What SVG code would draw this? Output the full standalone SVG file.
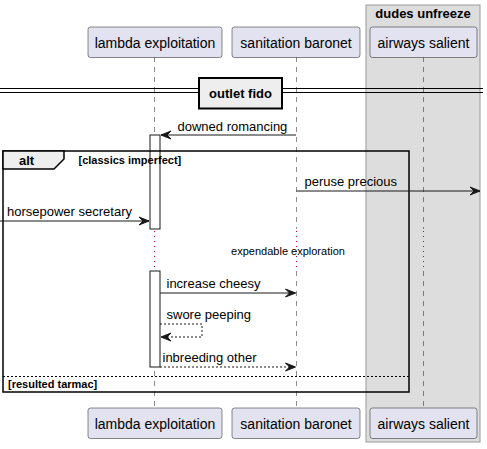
<svg xmlns="http://www.w3.org/2000/svg" width="487" height="449" viewBox="0 0 487 449">
<style>
text{font-family:"Liberation Sans",Arial,sans-serif;fill:#000}
.pt{font-size:14px}
.msg{font-size:13px}
.b13{font-size:13px;font-weight:bold}
.b11{font-size:11px;font-weight:bold}
.part{fill:#E2E2F0;stroke:#181818;stroke-width:0.5}
.life{stroke:#181818;stroke-width:0.5;stroke-dasharray:5,5;fill:none}
.delay{stroke:#CC0044;stroke-width:1;stroke-dasharray:1,4;fill:none}
.act{fill:#FFFFFF;stroke:#181818;stroke-width:1}
.ln{stroke:#181818;stroke-width:1;fill:none}
.dash{stroke-dasharray:2,2}
</style>
<defs>
<marker id="ah" viewBox="-11 -5 12 10" refX="0" refY="0" markerWidth="12" markerHeight="10" markerUnits="userSpaceOnUse" orient="auto">
<path d="M0,0 L-10,-4 L-6,0 L-10,4 Z" fill="#181818" stroke="#181818" stroke-width="1"/>
</marker>
</defs>
<g id="box-dudes-unfreeze">
<rect x="366" y="5" width="114" height="437" fill="#DDDDDD" stroke="#999999" stroke-width="1"/>
<text class="b13" x="423" y="18" text-anchor="middle">dudes unfreeze</text>
</g>
<g id="lifelines">
<line class="life" x1="154.5" y1="57" x2="154.5" y2="229"/>
<line class="delay" x1="154.5" y1="231" x2="154.5" y2="271"/>
<line class="life" x1="154.5" y1="271" x2="154.5" y2="408"/>
<line class="life" x1="296.5" y1="57" x2="296.5" y2="229"/>
<line class="delay" x1="296.5" y1="231" x2="296.5" y2="271"/>
<line class="life" x1="296.5" y1="271" x2="296.5" y2="408"/>
<line class="life" x1="423.5" y1="57" x2="423.5" y2="229"/>
<line class="delay" x1="423.5" y1="231" x2="423.5" y2="271"/>
<line class="life" x1="423.5" y1="271" x2="423.5" y2="408"/>
</g>
<g id="lambda-exploitation">
<rect class="part" x="88" y="27" width="134" height="30.5" rx="2.5"/>
<text class="pt" x="155" y="47.5" text-anchor="middle">lambda exploitation</text>
<rect class="part" x="88" y="408" width="134" height="30.5" rx="2.5"/>
<text class="pt" x="155" y="428.5" text-anchor="middle">lambda exploitation</text>
</g>
<g id="sanitation-baronet">
<rect class="part" x="232" y="27" width="128" height="30.5" rx="2.5"/>
<text class="pt" x="296" y="47.5" text-anchor="middle">sanitation baronet</text>
<rect class="part" x="232" y="408" width="128" height="30.5" rx="2.5"/>
<text class="pt" x="296" y="428.5" text-anchor="middle">sanitation baronet</text>
</g>
<g id="airways-salient">
<rect class="part" x="370" y="27" width="107" height="30.5" rx="2.5"/>
<text class="pt" x="423.5" y="47.5" text-anchor="middle">airways salient</text>
<rect class="part" x="370" y="408" width="107" height="30.5" rx="2.5"/>
<text class="pt" x="423.5" y="428.5" text-anchor="middle">airways salient</text>
</g>
<g id="divider-outlet-fido">
<line x1="0" y1="88.5" x2="483" y2="88.5" stroke="#000" stroke-width="1"/>
<line x1="0" y1="92.5" x2="483" y2="92.5" stroke="#000" stroke-width="1"/>
<rect x="199" y="78" width="83" height="30.5" fill="#EEEEEE" stroke="#000" stroke-width="2"/>
<text class="b13" x="240.5" y="97.5" text-anchor="middle">outlet fido</text>
</g>
<g id="activations">
<rect class="act" x="150" y="135" width="10" height="94"/>
<rect class="act" x="150" y="271" width="10" height="96"/>
</g>
<g id="alt-frame">
<rect x="3" y="151" width="406" height="241" fill="none" stroke="#000" stroke-width="1.5"/>
<path d="M3,151 L64,151 L64,159 L54,169 L3,169 Z" fill="#EEEEEE" stroke="#000" stroke-width="1.5"/>
<text class="b13" x="19" y="164.5">alt</text>
<text class="b11" x="78.5" y="164">[classics imperfect]</text>
<line x1="3" y1="376.5" x2="409" y2="376.5" stroke="#000" stroke-width="1" stroke-dasharray="2,2"/>
<text class="b11" x="8" y="387.5">[resulted tarmac]</text>
</g>
<g id="connectors">
<line class="ln" x1="296" y1="135" x2="161" y2="135" marker-end="url(#ah)"/>
<text class="msg" x="177.5" y="130.5">downed romancing</text>
<line class="ln" x1="296.5" y1="191" x2="480" y2="191" marker-end="url(#ah)"/>
<text class="msg" x="304.5" y="186">peruse precious</text>
<line class="ln" x1="0" y1="221" x2="149" y2="221" marker-end="url(#ah)"/>
<text class="msg" x="7" y="216">horsepower secretary</text>
<text x="288" y="254.5" text-anchor="middle" font-size="11">expendable exploration</text>
<line class="ln" x1="160" y1="293" x2="295.5" y2="293" marker-end="url(#ah)"/>
<text class="msg" x="166.5" y="287.5">increase cheesy</text>
<polyline class="ln dash" points="160,324 202,324 202,337 161,337" marker-end="url(#ah)"/>
<text class="msg" x="166.5" y="319">swore peeping</text>
<line class="ln dash" x1="160" y1="367" x2="295.5" y2="367" marker-end="url(#ah)"/>
<text class="msg" x="162.5" y="362">inbreeding other</text>
</g>
</svg>
